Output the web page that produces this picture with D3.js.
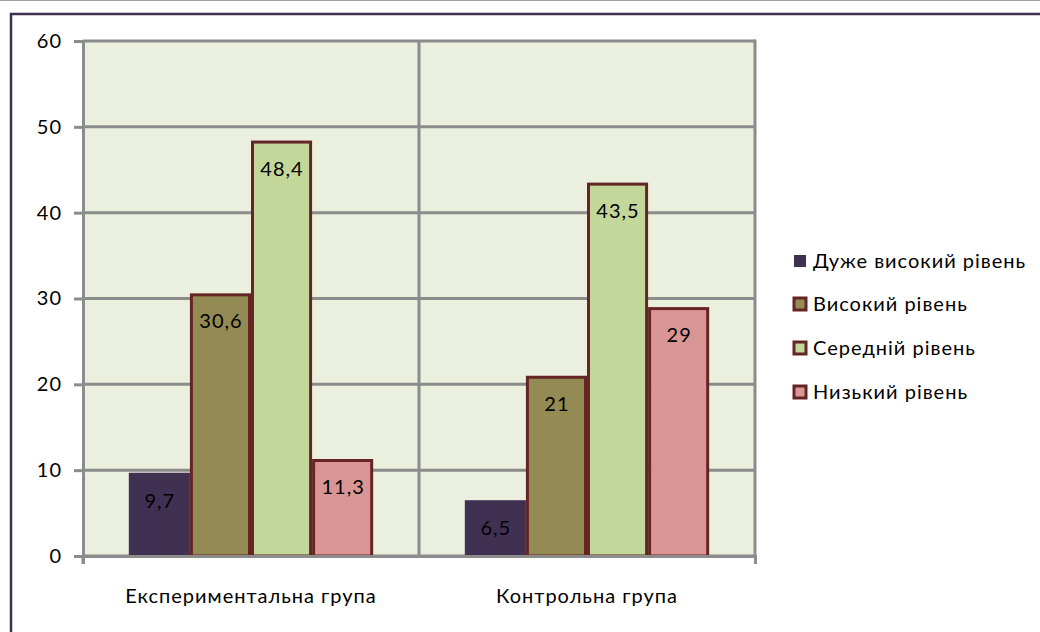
<!DOCTYPE html>
<html><head><meta charset="utf-8">
<script src="https://cdn.jsdelivr.net/npm/d3@7"></script>
<style>body{margin:0;background:#fff;}svg{display:block;} text{letter-spacing:1px;}</style>
</head><body>
<svg id="c" width="1040" height="632"></svg>
<script>
const categories = ["Експериментальна група", "Контрольна група"];
const seriesNames = ["Дуже високий рівень", "Високий рівень", "Середній рівень", "Низький рівень"];
const seriesColors = ["#403152", "#948a54", "#c4d79b", "#da9694"];
const valuesExp = [9.7, 30.6, 48.4, 11.3];
const valuesCtrl = [6.5, 21, 43.5, 29];
const yTicks = [0, 10, 20, 30, 40, 50, 60];

const values = [valuesExp, valuesCtrl];
const svg = d3.select("#c");
const font = "Lato, 'Open Sans', sans-serif";
const L = 83, R = 755, T = 41, B = 556;

// outer lines
svg.append("line").attr("x1",0).attr("x2",1040).attr("y1",0.5).attr("y2",0.5).attr("stroke","#a0a0a0").attr("stroke-width",1);
svg.append("rect").attr("x",11).attr("y",14).attr("width",1100).attr("height",700)
  .attr("fill","none").attr("stroke","#3f3151").attr("stroke-width",2.5);

const y = d3.scaleLinear().domain([0,60]).range([B,T]);
const x0 = d3.scaleBand().domain(categories).range([L,R]).paddingInner(0).paddingOuter(0);
const x1 = d3.scaleBand().domain(seriesNames).range([0,x0.bandwidth()]).paddingOuter(0.75).paddingInner(0);

svg.append("rect").attr("x",L).attr("y",T).attr("width",R-L).attr("height",B-T).attr("fill","#ebefde");

// gridlines
svg.append("g").selectAll("line").data(yTicks).join("line")
  .attr("x1",L).attr("x2",R).attr("y1",d=>y(d)).attr("y2",d=>y(d))
  .attr("stroke","#8c8c8c").attr("stroke-width",3);
// category separator and right border
svg.append("line").attr("x1",x0(categories[1])).attr("x2",x0(categories[1])).attr("y1",T).attr("y2",B).attr("stroke","#8c8c8c").attr("stroke-width",3);
svg.append("line").attr("x1",R).attr("x2",R).attr("y1",T-1.5).attr("y2",B).attr("stroke","#8c8c8c").attr("stroke-width",3);

// bars
const groups = svg.append("g").selectAll("g").data(categories).join("g")
  .attr("transform",d=>`translate(${x0(d)},0)`);
groups.each(function(cat, ci){
  const g = d3.select(this);
  seriesNames.forEach((s, si) => {
    const v = values[ci][si];
    const bx = x1(s), bw = x1.bandwidth();
    const rect = g.append("rect").attr("fill", seriesColors[si]);
    if (si === 0) {
      rect.attr("x",bx).attr("y",y(v)).attr("width",bw).attr("height",B-y(v));
    } else {
      rect.attr("x",bx+1.5).attr("y",y(v)+1.5).attr("width",bw-3).attr("height",B-y(v)-1.5)
        .attr("stroke","#652525").attr("stroke-width",3);
    }
    g.append("text").attr("x",bx+bw/2+0.5).attr("y",y(v)+28).attr("dy","0.35em")
      .attr("text-anchor","middle").attr("font-family",font).attr("font-size",20).attr("fill","#000")
      .text(String(v).replace(".",","));
  });
});

// y axis
const yAxis = d3.axisLeft(y).tickValues(yTicks).tickSize(9).tickPadding(12);
const ya = svg.append("g").attr("transform",`translate(${L},0)`).call(yAxis);
ya.select(".domain").attr("stroke","#8c8c8c").attr("stroke-width",3);
ya.selectAll(".tick line").attr("stroke","#8c8c8c").attr("stroke-width",3);
ya.selectAll("text").attr("font-family",font).attr("font-size",20).attr("fill","#000");

// x axis
const xAxis = d3.axisBottom(x0).tickSize(8).tickPadding(25);
const xa = svg.append("g").attr("transform",`translate(0,${B})`).call(xAxis);
xa.select(".domain").attr("stroke","#8c8c8c").attr("stroke-width",3);
xa.selectAll(".tick line").remove();
xa.selectAll("text").attr("font-family",font).attr("font-size",20).attr("fill","#000");
svg.append("line").attr("x1",L).attr("x2",L).attr("y1",B).attr("y2",B+8).attr("stroke","#8c8c8c").attr("stroke-width",3);

// legend
const legY = [261, 304, 348, 392];
const leg = svg.append("g").selectAll("g").data(seriesNames).join("g")
  .attr("transform",(d,i)=>`translate(794,${legY[i]})`);
leg.append("rect").attr("x",0).attr("y",-6).attr("width",12).attr("height",12)
  .attr("fill",(d,i)=>seriesColors[i])
  .attr("stroke",(d,i)=>i===0?"none":"#652525").attr("stroke-width",3);
leg.append("text").attr("x",19).attr("y",0).attr("dy","0.35em")
  .attr("font-family",font).attr("font-size",20).attr("fill","#000").text(d=>d);
</script>
</body></html>
